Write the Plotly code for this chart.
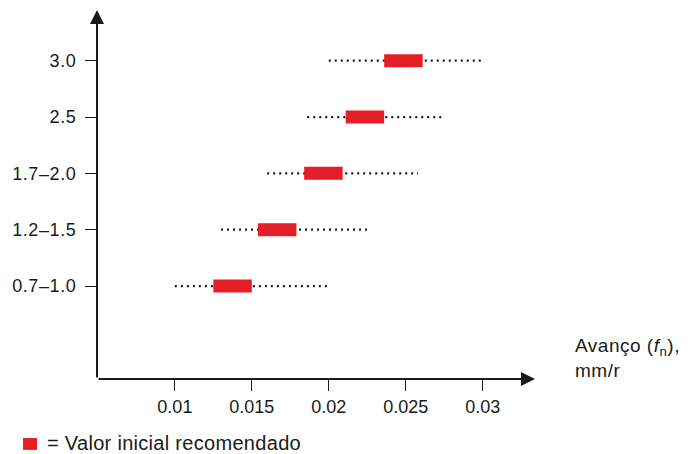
import plotly.graph_objects as go

categories = ["0.7–1.0", "1.2–1.5", "1.7–2.0", "2.5", "3.0"]
range_min = [0.0100, 0.0130, 0.0160, 0.0186, 0.0200]
range_max = [0.0199, 0.0226, 0.0258, 0.0274, 0.0300]
rec_min = [0.0125, 0.0154, 0.0184, 0.0211, 0.0236]
rec_max = [0.0150, 0.0179, 0.0209, 0.0236, 0.0261]
x_ticks = [0.01, 0.015, 0.02, 0.025, 0.03]
x_tick_text = ["0.01", "0.015", "0.02", "0.025", "0.03"]

RED = "#e31e26"
INK = "#1a1a1a"
FONT = "Liberation Sans, Arial, sans-serif"


def spaced(t, ls=1.0):
    return f"<span style='letter-spacing:{ls}px'>{t}</span>"


ypos = list(range(len(categories)))

fig = go.Figure()
for i, c in enumerate(categories):
    fig.add_trace(go.Scatter(
        x=[range_min[i], range_max[i]], y=[ypos[i], ypos[i]],
        mode="lines", line=dict(color=INK, width=2.2, dash="2px,4px"),
        showlegend=False, hoverinfo="skip"))
for i, c in enumerate(categories):
    fig.add_trace(go.Scatter(
        x=[rec_min[i], rec_max[i]], y=[ypos[i], ypos[i]],
        mode="lines", line=dict(color=RED, width=13),
        showlegend=False, hoverinfo="skip"))

x0, x1 = 0.00494, 0.0334
y0, y1 = -1.65, 4.9

fig.update_xaxes(range=[x0, x1], tickvals=x_ticks, ticktext=x_tick_text,
                 ticks="outside", ticklen=11, tickwidth=1.3, tickcolor=INK,
                 showline=False, showgrid=False, zeroline=False,
                 tickfont=dict(family=FONT, size=18, color=INK))
fig.update_yaxes(range=[y0, y1], tickvals=ypos,
                 ticktext=[spaced(t, 0.6) for t in categories],
                 ticks="outside", ticklen=11, tickwidth=1.3, tickcolor=INK,
                 ticklabelstandoff=5,
                 showline=False, showgrid=False, zeroline=False,
                 tickfont=dict(family=FONT, size=18, color=INK))

# axes with arrowheads
fig.add_annotation(x=x1, y=y0, ax=x0, ay=y0, xref="x", yref="y", axref="x", ayref="y",
                   showarrow=True, arrowhead=2, arrowsize=1.4, arrowwidth=2,
                   arrowcolor=INK, text="")
fig.add_annotation(x=x0, y=y1, ax=x0, ay=y0, xref="x", yref="y", axref="x", ayref="y",
                   showarrow=True, arrowhead=2, arrowsize=1.4, arrowwidth=2,
                   arrowcolor=INK, text="")

fig.add_annotation(x=1.087, y=-0.01, xref="paper", yref="paper", xanchor="left", yanchor="bottom",
                   align="left", showarrow=False,
                   text=spaced("Avanço (<i>f</i><sub>n</sub>),", 0.5) + "<br>" + spaced("mm/r", 0.5),
                   font=dict(family=FONT, size=19, color=INK))

# legend
fig.add_shape(type="rect", xref="paper", yref="paper",
              x0=-0.169, x1=-0.137, y0=-0.192, y1=-0.160,
              fillcolor=RED, line=dict(width=0))
fig.add_annotation(x=-0.1187, y=-0.1734, xref="paper", yref="paper",
                   xanchor="left", yanchor="middle", showarrow=False,
                   text=spaced("= Valor inicial recomendado", 0.3),
                   font=dict(family=FONT, size=20, color=INK))

fig.update_layout(width=691, height=454,
                  margin=dict(l=97, r=156, t=10, b=75, autoexpand=False),
                  plot_bgcolor="white", paper_bgcolor="white")

fig.write_html("out.html", config={"displayModeBar": False},
               post_script="document.body.style.margin='0';document.body.style.overflow='hidden';")
